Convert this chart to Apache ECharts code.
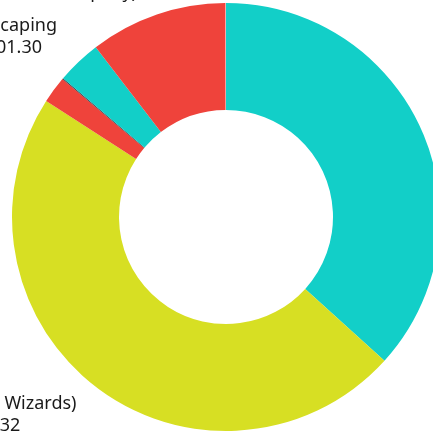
<!DOCTYPE html>
<html>
<head>
<meta charset="utf-8">
<script src="https://cdn.jsdelivr.net/npm/echarts@6/dist/echarts.min.js"></script>
<style>
html,body{margin:0;padding:0;background:#fff;}
#chart{width:433px;height:434px;}
</style>
</head>
<body>
<div id="chart"></div>
<script>
// Slices in clockwise order starting at 12 o'clock
const categories = [
  'Lawn Mowing (Green Thumb Co.)',
  'Lot (Lawn Wizards)',
  'Hedge Trimming',
  'Irrigation',
  'Landscaping',
  'Pest Control (Acme Company)',
  'Snow Removal'
];
const values = [122520.10, 158085.32, 6770.45, 270.00, 11201.30, 34537.80, 200.00];
const colors = ['#12CFC8', '#D7DF23', '#EF433B', '#3A3F4A', '#12CFC8', '#EF433B', '#F4A29C'];
// which slices carry a visible label, and whether the value line comes first
const labelShown = [false, true, false, false, true, true, false];
const valueFirst = [false, false, false, false, false, true, false];

function money(v) {
  return '$' + v.toLocaleString('en-US', {minimumFractionDigits: 2, maximumFractionDigits: 2});
}

// label anchors (text layout only)
const labelPos = {
  1: {x: -82, y: 393, align: 'left'},
  4: {x: -50, y: 15, align: 'left'},
  5: {x: 137, y: -40, align: 'right'}
};

const data = categories.map((name, i) => ({
  name: name,
  value: values[i],
  itemStyle: {color: colors[i]},
  label: {show: labelShown[i]}
}));

const chart = echarts.init(document.getElementById('chart'), null, {renderer: 'canvas'});
chart.setOption({
  animation: false,
  series: [{
    type: 'pie',
    center: [226, 217],
    radius: [107, 214],
    startAngle: 90,
    clockwise: true,
    avoidLabelOverlap: false,
    itemStyle: {borderWidth: 0},
    emphasis: {disabled: true},
    label: {
      position: 'outside',
      width: 400,
      overflow: 'none',
      fontFamily: 'Noto Sans',
      fontSize: 18,
      lineHeight: 22,
      color: '#1a1a1a',
      formatter: function (p) {
        const i = p.dataIndex;
        return valueFirst[i] ? money(p.value) + '\n' + p.name : p.name + '\n' + money(p.value);
      }
    },
    labelLine: {show: false},
    labelLayout: function (params) {
      const pos = labelPos[params.dataIndex];
      if (!pos) return {};
      return {x: pos.x, y: pos.y, align: pos.align, verticalAlign: 'top'};
    },
    data: data
  }]
});
</script>
</body>
</html>
